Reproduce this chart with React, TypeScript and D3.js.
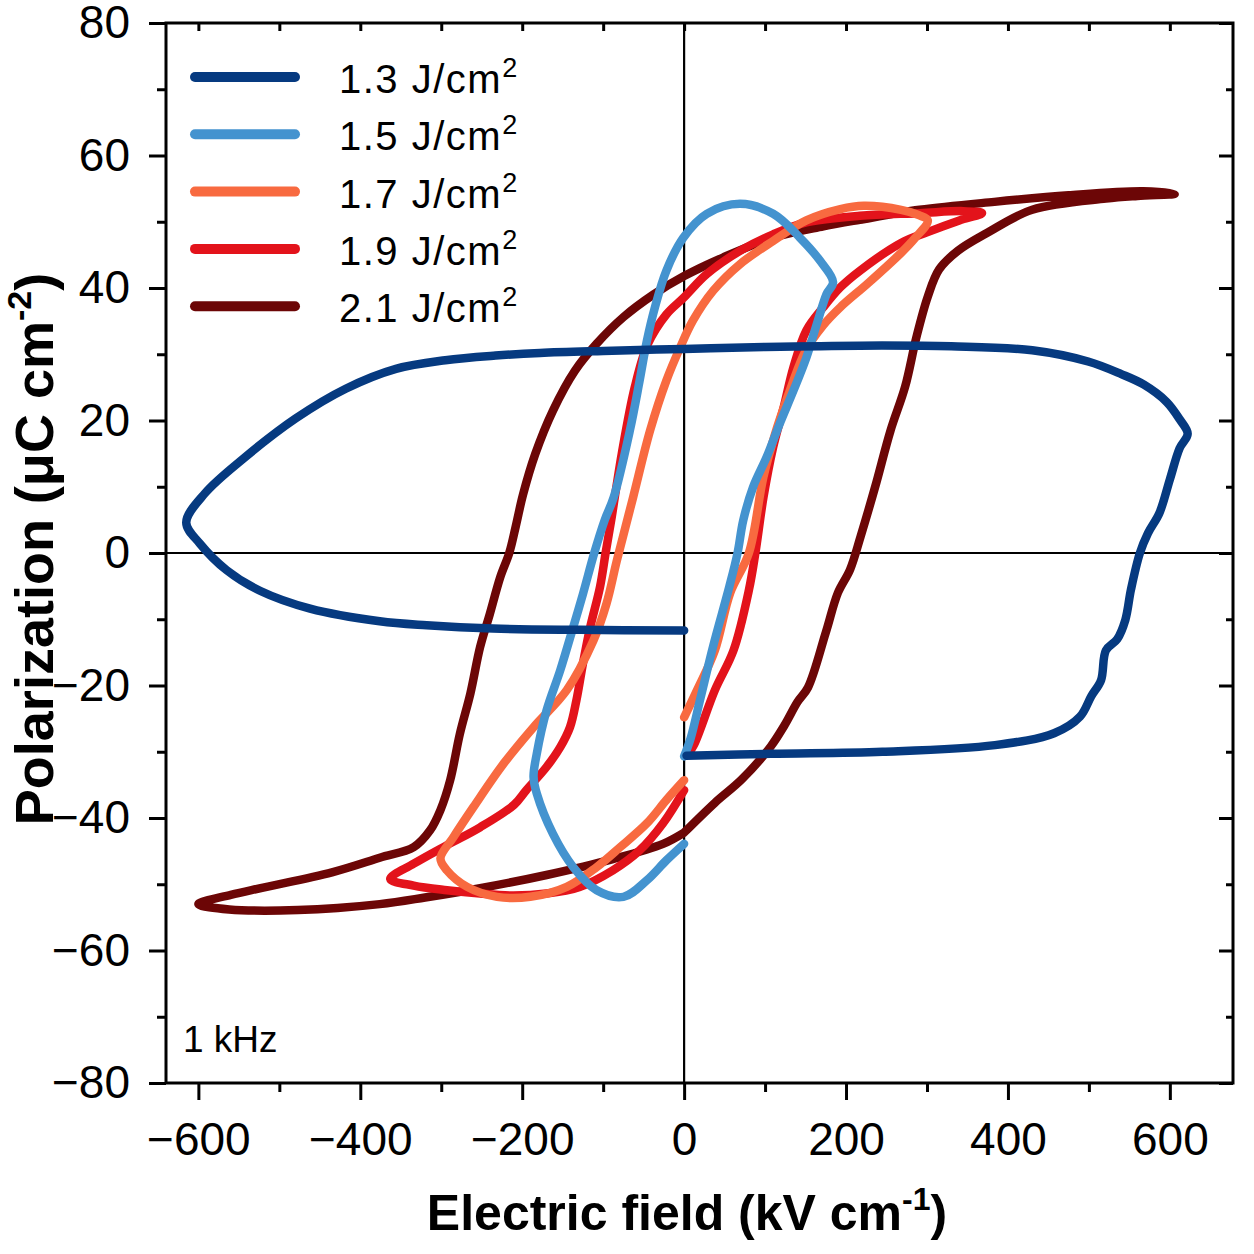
import React, { useEffect, useRef } from "react";
import * as d3 from "d3";

type Pt = [number, number];

// energy density labels (J/cm2)
const labels = ["1.3", "1.5", "1.7", "1.9", "2.1"];
const colors = ["#063a80", "#4493cf", "#f86a40", "#e3131b", "#6c0606"];

// P-E loops, [E kV/cm, P uC/cm2]
const loop13: Pt[] = [
  [0, -11.7], [-129, -11.6], [-236, -11.4], [-318, -10.9], [-376, -10.3], [-462, -8.4],
  [-524, -5.7], [-565, -2.6], [-598, 1.4], [-615, 4.6], [-592, 9], [-545, 14.2],
  [-480, 20.3], [-418, 24.8], [-356, 27.8], [-295, 29.1], [-233, 29.8], [-178, 30.2],
  [-100, 30.5], [0, 30.8], [100, 31.1], [217, 31.3], [330, 31.2], [430, 30.6],
  [499, 28.9], [540, 27], [568, 25.4], [596, 22.8], [612, 20.2], [622, 18], [612, 15.8],
  [600, 11.1], [587, 6], [573, 3], [563, 0], [552, -5.5], [545, -10.1], [535, -13],
  [521, -14.7], [515, -19.2], [503, -21.6], [489, -24.7], [457, -27.2], [384, -29],
  [245, -30], [107, -30.3], [3, -30.6],
];

const loop15: Pt[] = [
  [0, -43.9], [-22, -46.4], [-46, -49.4], [-75, -51.9], [-108, -50.9], [-137, -47.4],
  [-162, -42.4], [-182, -36.3], [-186, -33.8], [-182, -30.3], [-170, -23.8], [-153, -17.7],
  [-137, -11.2], [-125, -6.2], [-111, 0], [-98, 5], [-87, 8.4], [-67, 18.5], [-55, 26],
  [-46, 32], [-36, 37.1], [-22, 42.6], [-1, 47.6], [28, 51.2], [69, 52.7], [110, 51.2],
  [143, 47.6], [168, 44.1], [184, 40.9], [176, 39.1], [164, 34.6], [151, 29.5], [135, 24.5],
  [118, 19.5], [102, 14.5], [85, 9.9], [73, 4.9], [66, 0], [56, -5], [36, -14], [20, -22],
  [8, -28], [0, -30.7],
];

const loop17: Pt[] = [
  [0, -34.3], [-22, -37.3], [-46, -40.8], [-79, -44.4], [-108, -47.4], [-145, -50.4],
  [-190, -51.9], [-231, -51.9], [-268, -50.4], [-293, -47.9], [-301, -46.1], [-285, -42.9],
  [-260, -38.3], [-223, -31.8], [-186, -26.3], [-145, -20.7], [-112, -13.2], [-96, -7.7],
  [-83, -1.1], [-63, 8.4], [-42, 18.5], [-22, 26], [-5, 31], [11, 35.1], [36, 39.6],
  [69, 43.6], [110, 47.1], [151, 50.2], [193, 51.9], [222, 52.4], [268, 51.8], [290, 51],
  [301, 50.2], [285, 47.5], [268, 45.3], [227, 40.7], [193, 37.1], [172, 34.4], [150, 30.5],
  [132, 25], [115, 19], [98, 11.5], [80, 0], [57, -6], [38, -14.7], [16, -20.7], [0, -24.8],
];

const loop19: Pt[] = [
  [0, -35.8], [-26, -40.8], [-55, -44.9], [-88, -47.9], [-129, -50.4], [-170, -51.4],
  [-211, -51.7], [-252, -51.4], [-293, -50.9], [-334, -50.2], [-363, -49.2], [-334, -46.9],
  [-293, -44.1], [-252, -41.4], [-210, -38], [-195, -35.8], [-170, -32.3], [-153, -29.3],
  [-141, -26.3], [-133, -22.2], [-125, -16.7], [-116, -11.2], [-104, -5.2], [-97, 0],
  [-90, 5], [-77, 15], [-61, 25], [-45, 31.5], [-22, 36], [0, 38.6], [28, 42.1], [69, 45.6],
  [110, 48.1], [151, 49.9], [217, 50.9], [291, 51.3], [345, 51.6], [368, 51.3], [340, 50.2],
  [300, 48.4], [268, 46.8], [217, 42.6], [193, 40.1], [172, 37.1], [151, 33.6], [135, 28],
  [123, 22], [110, 16], [98, 8.4], [88, 0], [80, -5.6], [61, -14.7], [38, -20.7], [12, -29],
  [4, -30.5],
];

const loop21: Pt[] = [
  [0, -42.2], [-26, -43.9], [-88, -46.2], [-170, -48.6], [-252, -50.6], [-320, -52],
  [-376, -53], [-477, -53.9], [-562, -53.8], [-600, -53], [-560, -51.6], [-520, -50.5],
  [-435, -48.2], [-376, -46], [-334, -44.4], [-314, -41.9], [-301, -38.8], [-289, -34.3],
  [-277, -27.3], [-264, -21.2], [-252, -14.2], [-240, -9.2], [-227, -3.6], [-216, 0],
  [-208, 4], [-199, 8.8], [-184, 14.9], [-162, 21.5], [-135, 27.5], [-108, 31.6],
  [-75, 35.6], [-38, 39], [0, 41.8], [48, 44.6], [110, 47.6], [172, 49.3], [217, 50.3],
  [291, 51.8], [383, 53], [475, 54], [567, 54.6], [606, 54.2], [560, 53.9], [521, 53.5],
  [430, 51.8], [374, 48.3], [338, 45.6], [315, 42.8], [301, 38.7], [287, 32.6], [273, 25.1],
  [255, 18.5], [236, 10], [218, 2.5], [205, -2.5], [190, -6], [175, -12], [153, -20.3],
  [140, -22.5], [124, -26], [107, -29.2], [71, -34.2], [38, -37.7], [0, -42.2],
];

const loops = [loop13, loop15, loop17, loop19, loop21];

const xMajor = [-600, -400, -200, 0, 200, 400, 600];
const xMinor = [-500, -300, -100, 100, 300, 500];
const yMajor = [-80, -60, -40, -20, 0, 20, 40, 60, 80];
const yMinor = [-70, -50, -30, -10, 10, 30, 50, 70];

const FONT = "'Liberation Sans', Arial, Helvetica, sans-serif";

export default function App() {
  const svgRef = useRef<SVGSVGElement>(null);

  useEffect(() => {
    const svg = d3.select(svgRef.current);
    svg.selectAll("*").remove();

    const L = 166, R = 1233, T = 23, B = 1083;
    const x = d3.scaleLinear().domain([-640, 678]).range([L, R]);
    const y = d3.scaleLinear().domain([-80, 80]).range([B, T]);

    // zero lines
    svg.append("line").attr("x1", x(0)).attr("x2", x(0)).attr("y1", T).attr("y2", B)
      .attr("stroke", "#000").attr("stroke-width", 2.2);
    svg.append("line").attr("x1", L).attr("x2", R).attr("y1", y(0)).attr("y2", y(0))
      .attr("stroke", "#000").attr("stroke-width", 2.2);

    const line = d3.line<Pt>()
      .x((d) => x(d[0]))
      .y((d) => y(d[1]))
      .curve(d3.curveCatmullRom.alpha(0.5));

    // draw highest energy first so 1.3 ends on top
    for (let i = loops.length - 1; i >= 0; i--) {
      svg.append("path")
        .attr("d", line(loops[i]))
        .attr("fill", "none")
        .attr("stroke", colors[i])
        .attr("stroke-width", 8.5)
        .attr("stroke-linecap", "round")
        .attr("stroke-linejoin", "round");
    }

    const styleAxis = (g: any) => {
      g.select(".domain").remove();
      g.selectAll("line").attr("stroke", "#000").attr("stroke-width", 3);
      g.selectAll("text").attr("font-size", 46).attr("font-family", FONT).attr("fill", "#000");
    };

    // bottom
    svg.append("g").attr("transform", `translate(0,${B})`)
      .call(d3.axisBottom(x).tickValues(xMajor).tickSize(17).tickPadding(22).tickFormat(d3.format("d")))
      .call(styleAxis);
    svg.append("g").attr("transform", `translate(0,${B})`)
      .call(d3.axisBottom(x).tickValues(xMinor).tickSize(9).tickFormat(() => ""))
      .call(styleAxis);
    // top (inward)
    svg.append("g").attr("transform", `translate(0,${T})`)
      .call(d3.axisTop(x).tickValues([...xMajor, ...xMinor]).tickSize(-8).tickFormat(() => ""))
      .call(styleAxis);
    // left
    svg.append("g").attr("transform", `translate(${L},0)`)
      .call(d3.axisLeft(y).tickValues(yMajor).tickSize(17).tickPadding(19).tickFormat(d3.format("d")))
      .call(styleAxis);
    svg.append("g").attr("transform", `translate(${L},0)`)
      .call(d3.axisLeft(y).tickValues(yMinor).tickSize(9).tickFormat(() => ""))
      .call(styleAxis);
    // right (inward)
    svg.append("g").attr("transform", `translate(${R},0)`)
      .call(d3.axisRight(y).tickValues(yMajor).tickSize(-14).tickFormat(() => ""))
      .call(styleAxis);
    svg.append("g").attr("transform", `translate(${R},0)`)
      .call(d3.axisRight(y).tickValues(yMinor).tickSize(-7).tickFormat(() => ""))
      .call(styleAxis);

    // frame
    svg.append("rect").attr("x", L).attr("y", T).attr("width", R - L).attr("height", B - T)
      .attr("fill", "none").attr("stroke", "#000").attr("stroke-width", 3);

    // legend
    const leg = svg.append("g");
    labels.forEach((lab, i) => {
      const ly = 77 + i * 57.3;
      leg.append("line").attr("x1", 195).attr("x2", 295).attr("y1", ly).attr("y2", ly)
        .attr("stroke", colors[i]).attr("stroke-width", 10).attr("stroke-linecap", "round");
      const t = leg.append("text").attr("x", 339).attr("y", ly + 16)
        .attr("font-family", FONT).attr("font-size", 40).attr("letter-spacing", 1.5).attr("fill", "#000");
      t.append("tspan").text(`${lab} J/cm`);
      t.append("tspan").attr("dy", -16).attr("font-size", 27).text("2");
    });

    // frequency note
    svg.append("text").attr("x", 183).attr("y", 1052)
      .attr("font-family", FONT).attr("font-size", 37).attr("fill", "#000").text("1 kHz");

    // x title
    const xt = svg.append("text").attr("x", 687).attr("y", 1230).attr("text-anchor", "middle")
      .attr("font-family", FONT).attr("font-size", 50).attr("font-weight", "bold").attr("fill", "#000");
    xt.append("tspan").text("Electric field (kV cm");
    xt.append("tspan").attr("dy", -20).attr("font-size", 32).text("-1");
    xt.append("tspan").attr("dy", 20).text(")");

    // y title
    const yt = svg.append("text").attr("transform", "translate(53,549) rotate(-90)")
      .attr("text-anchor", "middle")
      .attr("font-family", FONT).attr("font-size", 54).attr("font-weight", "bold").attr("fill", "#000");
    yt.append("tspan").text("Polarization (\u03bcC cm");
    yt.append("tspan").attr("dy", -22).attr("font-size", 34).text("-2");
    yt.append("tspan").attr("dy", 22).text(")");
  }, []);

  return (
    <svg
      ref={svgRef}
      width={1254}
      height={1254}
      style={{ position: "absolute", left: 0, top: 0, background: "#fff", display: "block" }}
    />
  );
}
